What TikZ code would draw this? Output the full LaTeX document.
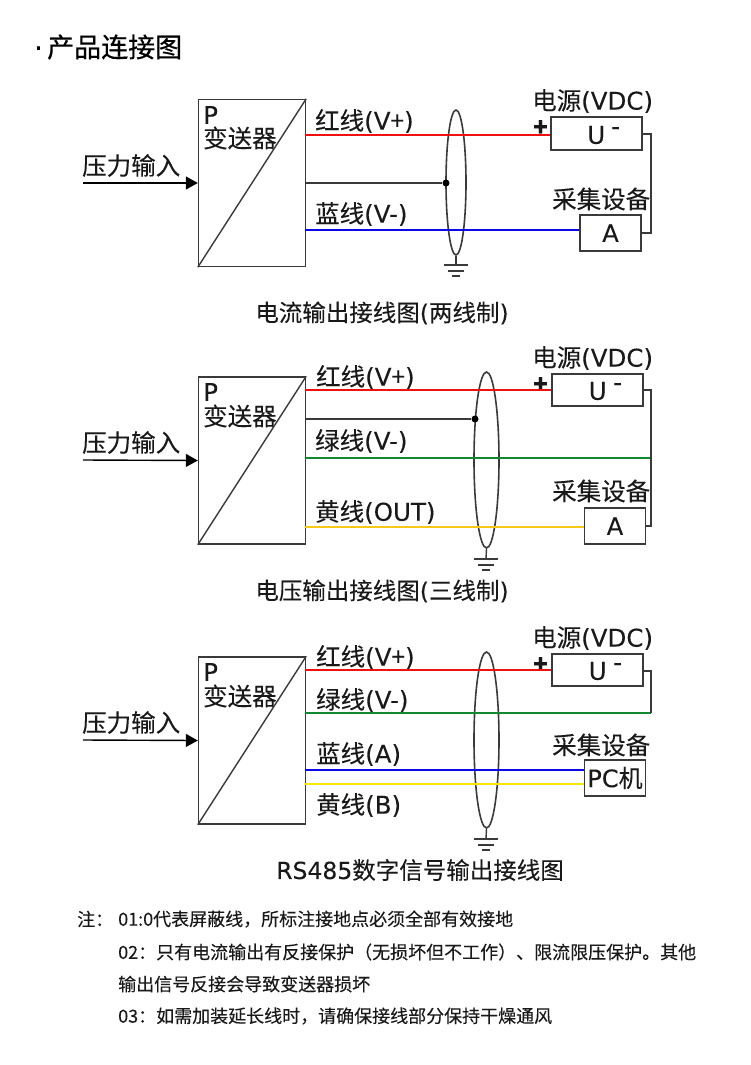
\documentclass[tikz,border=0pt]{standalone}
\usepackage{fontspec}
\setmainfont[FakeBold=0.12]{Noto Sans CJK SC}
\newfontfamily\latinfont[FakeBold=0.12]{DejaVu Sans}
\newfontfamily\titlefont[FakeBold=0.5]{Noto Sans CJK SC}
\newcommand{\lat}[1]{{\latinfont #1}}
\usetikzlibrary{positioning}
\usetikzlibrary{shapes}
\usetikzlibrary{arrows.meta}
\definecolor{wireGray}{HTML}{3A3A3A}
\definecolor{wireRed}{HTML}{F01010}
\definecolor{wireBlue}{HTML}{0808E8}
\definecolor{wireGreen}{HTML}{108A30}
\definecolor{wireYellow}{HTML}{F8C818}
\definecolor{wireLemon}{HTML}{F8E800}
\tikzset{
    wire/.style={line width=1.4pt},
    grayline/.style={wire,draw=wireGray},
    sensorbox/.style={shape=rectangle,draw=wireGray,line width=1.4pt,inner sep=0pt,minimum width=107pt,minimum height=167pt},
    devicebox/.style={shape=rectangle,draw=wireGray,line width=1.4pt,inner sep=0pt,text=black!90,font=\fontsize{24}{24}\selectfont},
    shield/.style={shape=ellipse,draw=wireGray,line width=1.6pt,inner sep=0pt},
    dot/.style={shape=circle,fill=black,inner sep=0pt,minimum size=7pt},
    label/.style={anchor=west,inner sep=0pt,text=black!90,font=\fontsize{24.5}{24}\selectfont},
    plussign/.style={label,font=\fontsize{24}{24}\selectfont\bfseries},
    caption/.style={inner sep=0pt,text=black!90,font=\fontsize{23.5}{24}\selectfont},
    note/.style={anchor=west,inner sep=0pt,text=black!90,font=\fontsize{18}{18}\selectfont},
    input/.style={wire,draw=black,-{Triangle[length=12pt,width=13pt]}},
}
\begin{document}
\begin{tikzpicture}[x=1pt,y=-1pt]
    \useasboundingbox (0,0) rectangle (750,1065);
    \node[inner sep=0pt,anchor=west,font=\fontsize{27}{27}\selectfont\latinfont] (bullet) at (34,52) {·};
    \node[inner sep=0pt,anchor=west,font=\fontsize{27}{27}\selectfont\titlefont] (title) at (47,47) {产品连接图};

    % current output
    \node[sensorbox] (boxA) at (252,183) {};
    \node[label] (pA) at (203,115) {\lat{P}};
    \node[label] (nameA) at (203,138) {变送器};
    \node[devicebox,minimum width=91pt,minimum height=33pt] (powerA) at (596.5,133.5) {};
    \node[devicebox,minimum width=61pt,minimum height=36pt] (meterA) at (610.5,233) {\lat{A}};
    \node[shield,minimum width=20pt,minimum height=145pt] (shieldA) at (456,182.5) {};
    \node[dot] (dotA) at (446,183) {};
    \coordinate (inA) at (83,183);
    \coordinate (redA) at (305,135);
    \coordinate (blackA) at (305,183);
    \coordinate (blueA) at (305,230);
    \coordinate (retA) at (651,134);
    \coordinate (gndA) at (456,265);
    \node[label] (redtextA) at (315,121) {红线\lat{(V}+\lat{)}};
    \node[label] (bluetextA) at (315,214) {蓝线\lat{(V-)}};
    \node[label] (powertextA) at (532,101) {电源\lat{(VDC)}};
    \node[label] (metertextA) at (552,199) {采集设备};
    \node[plussign] (plusA) at (533,128) {+};
    \node[label] (uA) at (587,135) {\lat{U}};
    \node[label] (minusA) at (611,131) {\lat{-}};
    \node[label] (inputA) at (82,165.5) {压力输入};
    \node[caption] (capA) at (382,313) {电流输出接线图\lat{(}两线制\lat{)}};

    \draw [input] (inA) -- (boxA.west);
    \path [wire,draw=wireRed] (redA) edge node {} (redA -| powerA.west);
    \path [grayline] (blackA) edge node {} (dotA);
    \path [wire,draw=wireBlue] (blueA) edge node {} (blueA -| meterA.west);
    \draw [grayline] (retA -| powerA.east) -- (retA) |- (meterA.east);
    \draw [grayline] (boxA.south west) -- (boxA.north east);
    \draw [grayline] (shieldA.south) -- (gndA);
    \draw [grayline] (gndA) ++(-12,0) -- ++(24,0) (gndA) ++(-8,6) -- ++(16,0) (gndA) ++(-4,11) -- ++(8,0);

    % voltage output
    \node[sensorbox] (boxB) at (252,460.5) {};
    \node[label] (pB) at (203,392) {\lat{P}};
    \node[label] (nameB) at (203,416) {变送器};
    \node[devicebox,minimum width=91pt,minimum height=32pt] (powerB) at (597.5,390) {};
    \node[devicebox,minimum width=61pt,minimum height=36pt] (meterB) at (615,526) {\lat{A}};
    \node[shield,minimum width=25pt,minimum height=176pt] (shieldB) at (486.5,460) {};
    \node[dot] (dotB) at (475,419) {};
    \coordinate (inB) at (83,460);
    \coordinate (redB) at (305,390);
    \coordinate (blackB) at (305,419);
    \coordinate (greenB) at (305,458);
    \coordinate (yellowB) at (305,527);
    \coordinate (retB) at (651,390);
    \coordinate (gndB) at (486,559);
    \node[label] (redtextB) at (316,377) {红线\lat{(V}+\lat{)}};
    \node[label] (greentextB) at (315,441) {绿线\lat{(V-)}};
    \node[label] (yellowtextB) at (315,512) {黄线\lat{(OUT)}};
    \node[label] (powertextB) at (532,358) {电源\lat{(VDC)}};
    \node[label] (metertextB) at (552,491) {采集设备};
    \node[plussign] (plusB) at (533,385) {+};
    \node[label] (uB) at (588.5,391) {\lat{U}};
    \node[label] (minusB) at (613,387) {\lat{-}};
    \node[label] (inputB) at (82,442.5) {压力输入};
    \node[caption] (capB) at (382,591) {电压输出接线图\lat{(}三线制\lat{)}};

    \draw [input] (inB) -- (boxB.west);
    \path [wire,draw=wireRed] (redB) edge node {} (redB -| powerB.west);
    \path [grayline] (blackB) edge node {} (dotB);
    \path [wire,draw=wireGreen] (greenB) edge node {} (greenB -| retB);
    \path [wire,draw=wireYellow] (yellowB) edge node {} (yellowB -| meterB.west);
    \draw [grayline] (retB -| powerB.east) -- (retB) |- (meterB.east);
    \draw [grayline] (boxB.south west) -- (boxB.north east);
    \draw [grayline] (shieldB.south) -- (gndB);
    \draw [grayline] (gndB) ++(-12,0) -- ++(24,0) (gndB) ++(-8,6) -- ++(16,0) (gndB) ++(-4,11) -- ++(8,0);

    % RS485 output
    \node[sensorbox] (boxC) at (252,740.5) {};
    \node[label] (pC) at (203,672) {\lat{P}};
    \node[label] (nameC) at (203,696) {变送器};
    \node[devicebox,minimum width=91pt,minimum height=32pt] (powerC) at (597.5,670) {};
    \node[devicebox,minimum width=61pt,minimum height=36pt] (pcC) at (615,778) {\lat{PC}机};
    \node[shield,minimum width=25pt,minimum height=176pt] (shieldC) at (486.5,740) {};
    \coordinate (inC) at (83,740);
    \coordinate (redC) at (305,670);
    \coordinate (greenC) at (305,713);
    \coordinate (blueC) at (305,770);
    \coordinate (yellowC) at (305,784);
    \coordinate (retC) at (651,671);
    \coordinate (gndC) at (486,839);
    \node[label] (redtextC) at (316,657) {红线\lat{(V}+\lat{)}};
    \node[label] (greentextC) at (316,700) {绿线\lat{(V-)}};
    \node[label] (bluetextC) at (316,754) {蓝线\lat{(A)}};
    \node[label] (yellowtextC) at (316,805) {黄线\lat{(B)}};
    \node[label] (powertextC) at (532,638) {电源\lat{(VDC)}};
    \node[label] (metertextC) at (552,745) {采集设备};
    \node[plussign] (plusC) at (533,665) {+};
    \node[label] (uC) at (588.5,671) {\lat{U}};
    \node[label] (minusC) at (613,667) {\lat{-}};
    \node[label] (inputC) at (82,722.5) {压力输入};
    \node[caption] (capC) at (420,870) {\lat{RS485}数字信号输出接线图};

    \draw [input] (inC) -- (boxC.west);
    \path [wire,draw=wireRed] (redC) edge node {} (redC -| powerC.west);
    \path [wire,draw=wireGreen] (greenC) edge node {} (greenC -| retC);
    \path [wire,draw=wireBlue] (blueC) edge node {} (blueC -| pcC.west);
    \path [wire,draw=wireLemon] (yellowC) edge node {} (yellowC -| pcC.west);
    \draw [grayline] (retC -| powerC.east) -- (retC) -- (greenC -| retC);
    \draw [grayline] (boxC.south west) -- (boxC.north east);
    \draw [grayline] (shieldC.south) -- (gndC);
    \draw [grayline] (gndC) ++(-12,0) -- ++(24,0) (gndC) ++(-8,6) -- ++(16,0) (gndC) ++(-4,11) -- ++(8,0);

    % notes
    \node[note] (noteHead) at (77,919) {注：};
    \node[note] (noteOne) at (118,919) {01:0代表屏蔽线，所标注接地点必须全部有效接地};
    \node[note] (noteTwo) at (118,952) {02：只有电流输出有反接保护（无损坏但不工作）、限流限压保护。其他};
    \node[note] (noteThree) at (118,984) {输出信号反接会导致变送器损坏};
    \node[note] (noteFour) at (118,1016) {03：如需加装延长线时，请确保接线部分保持干燥通风};
\end{tikzpicture}
\end{document}
